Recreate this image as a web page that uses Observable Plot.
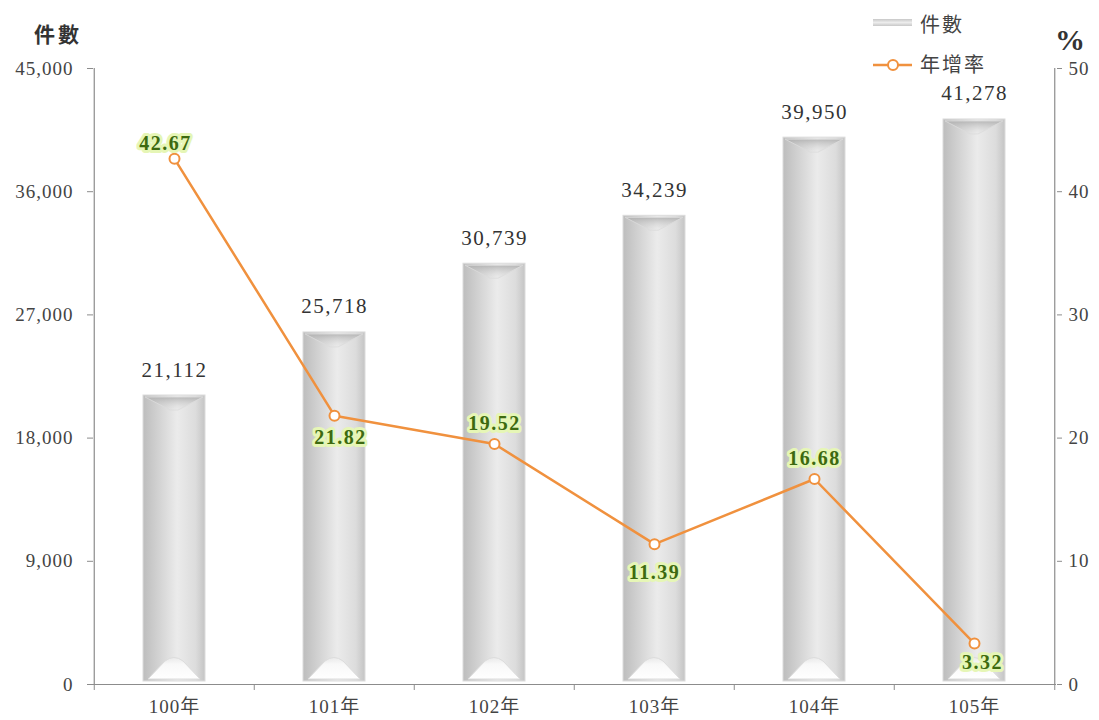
<!DOCTYPE html>
<html><head><meta charset="utf-8">
<script src="https://cdn.jsdelivr.net/npm/d3@7"></script>
<script src="https://cdn.jsdelivr.net/npm/@observablehq/plot@0.6"></script>
<style>
body{margin:0;background:#fff;overflow:hidden;}
#chart svg{display:block;}
</style>
</head><body><div id="chart"></div>
<script>
const years = ["100年","101年","102年","103年","104年","105年"];
const counts = [21112, 25718, 30739, 34239, 39950, 41278];
const growth = [42.67, 21.82, 19.52, 11.39, 16.68, 3.32];
const leftTicks = [0, 9000, 18000, 27000, 36000, 45000];
const rightTicks = [0, 10, 20, 30, 40, 50];
const seriesNames = ["件數", "年增率"];
const labelDx = [-9, 6, 0, 0, 0, 8];
const labelDy = [-15, 22, -20, 28, -20, 19];

const ratio = 45000 / 50;
const data = years.map((y, i) => ({year: y, count: counts[i], pct: growth[i], i}));
const font = "'Liberation Serif','DejaVu Serif','Noto Sans CJK TC',serif";
const orange = "#F0913E";
const axisGray = "#8c8c8c";
const halfBand = (1056 - 93) / 6 / 2;

function bevel(index, scales, values, dims, ctx, next) {
  const g = next(index, scales, values, dims, ctx);
  const sel = d3.select(g);
  const rects = sel.selectAll("rect").nodes();
  rects.forEach(r => {
    const x = +r.getAttribute("x"), y = +r.getAttribute("y");
    const w = +r.getAttribute("width"), h = +r.getAttribute("height");
    const yb = y + h;
    sel.append("path")
      .attr("d", `M${x+2},${y+2}L${x+w-2},${y+2}L${x+w/2+4},${y+15}L${x+w/2-4},${y+15}Z`)
      .attr("fill", "url(#topGrad)").attr("opacity", 0.8);
    sel.append("path")
      .attr("d", `M${x+5},${yb-2}L${x+w/2-9},${yb-20}Q${x+w/2},${yb-27} ${x+w/2+9},${yb-20}L${x+w-5},${yb-2}Z`)
      .attr("fill", "url(#botGrad)");
  });
  return g;
}

function shiftLabels(index, scales, values, dims, ctx, next) {
  const g = next(index, scales, values, dims, ctx);
  d3.select(g).selectAll("text").each(function(_, k) {
    const i = index[k];
    const t = d3.select(this);
    const tr = t.attr("transform") || "";
    t.attr("transform", tr + ` translate(${labelDx[i]},${labelDy[i]})`);
  });
  return g;
}

const plot = Plot.plot({
  width: 1099,
  height: 720,
  marginLeft: 93,
  marginRight: 43,
  marginTop: 68,
  marginBottom: 36,
  style: {fontFamily: font, color: "#444", background: "#fff"},
  x: {domain: years, paddingInner: 0.61, paddingOuter: 0.305, label: null},
  y: {domain: [0, 45000], label: null},
  marks: [
    Plot.barY(data, {x: "year", y: "count", fill: "url(#barGrad)", stroke: "#dcdcdc", strokeWidth: 1, insetBottom: 3, render: bevel}),
    Plot.text(data, {x: "year", y: "count", text: d => d3.format(",")(d.count), lineAnchor: "bottom", dy: -19, fill: "#333", fontSize: 21}),
    Plot.ruleY([0], {stroke: axisGray, strokeWidth: 1.2}),
    Plot.ruleX([years[0]], {dx: -halfBand, stroke: axisGray, strokeWidth: 1.2}),
    Plot.ruleX([years[5]], {dx: halfBand, stroke: axisGray, strokeWidth: 1.2}),
    Plot.ruleX(years, {dx: -halfBand, stroke: axisGray, insetTop: 616, insetBottom: -6}),
    Plot.ruleX([years[5]], {dx: halfBand, stroke: axisGray, insetTop: 616, insetBottom: -6}),
    Plot.axisY({anchor: "left", ticks: leftTicks, tickFormat: d3.format(","), tickSize: 6, tickPadding: 14, stroke: axisGray, fill: "#444", label: null}),
    Plot.axisY({anchor: "right", ticks: leftTicks, tickFormat: d => rightTicks[leftTicks.indexOf(d)], tickSize: 5, tickPadding: 7, stroke: axisGray, fill: "#444", label: null}),
    Plot.axisX({tickSize: 0, tickPadding: 15, fill: "#444", label: null}),
    Plot.line(data, {x: "year", y: d => d.pct * ratio, stroke: orange, strokeWidth: 2.5}),
    Plot.dot(data, {x: "year", y: d => d.pct * ratio, r: 5, fill: "#fff", stroke: orange, strokeWidth: 2}),
    Plot.text(data, {x: "year", y: d => d.pct * ratio, text: d => d3.format(".2f")(d.pct),
      fill: "#3d6a10", stroke: "#e6f6b6", strokeWidth: 6, fontSize: 20, fontWeight: "bold",
      render: shiftLabels})
  ]
});

const svg = d3.select(plot);
svg.selectAll('g[aria-label="y-axis tick label"] text').style("font-size", "19px").style("letter-spacing", "1px");
svg.selectAll('g[aria-label="x-axis tick label"] text').style("font-size", "19px").style("letter-spacing", "1px");
svg.selectAll('g[aria-label="text"] text').style("letter-spacing", "1.5px");

svg.insert("defs", ":first-child").html(`
  <linearGradient id="barGrad" x1="0" x2="1" y1="0" y2="0">
    <stop offset="0" stop-color="#bdbdbd"/>
    <stop offset="0.2" stop-color="#cecece"/>
    <stop offset="0.55" stop-color="#ebebeb"/>
    <stop offset="0.85" stop-color="#dcdcdc"/>
    <stop offset="1" stop-color="#c4c4c4"/>
  </linearGradient>
  <linearGradient id="topGrad" x1="0" x2="0" y1="0" y2="1">
    <stop offset="0" stop-color="#acacac"/>
    <stop offset="1" stop-color="#d8d8d8" stop-opacity="0"/>
  </linearGradient>
  <linearGradient id="botGrad" x1="0" x2="0" y1="1" y2="0">
    <stop offset="0" stop-color="#ffffff"/>
    <stop offset="0.7" stop-color="#f8f8f8"/>
    <stop offset="1" stop-color="#eeeeee" stop-opacity="0.6"/>
  </linearGradient>
  <linearGradient id="legGrad" x1="0" x2="0" y1="0" y2="1">
    <stop offset="0" stop-color="#c8c8c8"/>
    <stop offset="0.5" stop-color="#ececec"/>
    <stop offset="1" stop-color="#c8c8c8"/>
  </linearGradient>`);

const cjk = "'Noto Sans CJK TC','Liberation Serif',serif";
svg.append("text").attr("x", 58).attr("y", 35).attr("dy", "0.35em").attr("text-anchor", "middle")
  .attr("font-family", cjk).attr("font-weight", "bold").attr("font-size", 21).attr("letter-spacing", 3).attr("fill", "#333").text(seriesNames[0]);
svg.append("text").attr("x", 1070).attr("y", 50).attr("text-anchor", "middle")
  .attr("font-family", font).attr("font-weight", "bold").attr("font-size", 30).attr("fill", "#333").text("%");

const leg = svg.append("g").attr("text-anchor", "start");
leg.append("rect").attr("x", 873).attr("y", 19).attr("width", 39).attr("height", 7).attr("fill", "url(#legGrad)");
leg.append("text").attr("x", 920).attr("y", 25).attr("dy", "0.35em").attr("font-family", cjk).attr("font-size", 20).attr("letter-spacing", 2).attr("fill", "#444").text(seriesNames[0]);
leg.append("line").attr("x1", 873).attr("x2", 912).attr("y1", 65).attr("y2", 65).attr("stroke", orange).attr("stroke-width", 2.5);
leg.append("circle").attr("cx", 893).attr("cy", 65).attr("r", 5).attr("fill", "#fff").attr("stroke", orange).attr("stroke-width", 2);
leg.append("text").attr("x", 920).attr("y", 65).attr("dy", "0.35em").attr("font-family", cjk).attr("font-size", 20).attr("letter-spacing", 2).attr("fill", "#444").text(seriesNames[1]);

document.getElementById("chart").appendChild(plot);
</script>
</body></html>
